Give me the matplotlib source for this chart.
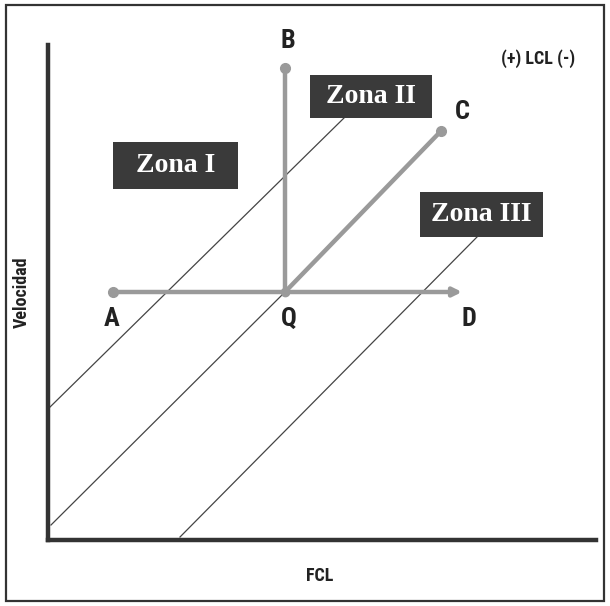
import matplotlib.pyplot as plt
from matplotlib.patches import Rectangle
from matplotlib import font_manager

# data space: origin at the axes corner, one unit ~ one pixel
point_names = ["A", "Q", "B", "C", "D"]
point_x = [65, 237, 237, 393, 414]
point_y = [248, 248, 472, 409, 248]

# thin diagonal iso-lines (start x, start y, end x, end y)
diag_x0 = [0, 3, 132]
diag_y0 = [131, 15, 3]
diag_x1 = [297, 237, 429]
diag_y1 = [423, 248, 303]

zone_labels = ["Zona I", "Zona II", "Zona III"]
zone_x = [65, 262, 372]
zone_y = [351, 422, 303]
zone_w = [125, 122, 123]
zone_h = [47, 43, 45]

label_dx = [-1, 4, 3, 21, 7]
label_dy = [-27, -27, 27, 19, -27]

GRAY = "#9a9a9a"
DARK = "#3a3a3a"

installed = {f.name for f in font_manager.fontManager.ttflist}
NARROW = [f for f in ["Liberation Sans Narrow", "DejaVu Sans Condensed",
                      "Roboto Condensed", "Open Sans Condensed"]
          if f in installed] + ["DejaVu Sans"]

fig = plt.figure(figsize=(6.10, 6.06), dpi=100)
ax = fig.add_axes([48 / 610, 66 / 606, 548 / 610, 495 / 606])
ax.set_xlim(0, 548)
ax.set_ylim(0, 495)
for s in ["top", "right"]:
    ax.spines[s].set_visible(False)
for s in ["left", "bottom"]:
    ax.spines[s].set_linewidth(3.2)
    ax.spines[s].set_color("#333333")
ax.set_xticks([])
ax.set_yticks([])

# frame around the whole figure
fig.patches.append(Rectangle((6 / 610, 5 / 606), 598 / 610, 596 / 606,
                             transform=fig.transFigure, fill=False,
                             edgecolor="#333333", linewidth=1.6))

for x0, y0, x1, y1 in zip(diag_x0, diag_y0, diag_x1, diag_y1):
    ax.plot([x0, x1], [y0, y1], color="#444444", linewidth=0.9)

pts = dict(zip(point_names, zip(point_x, point_y)))
qx, qy = pts["Q"]
for name in ["A", "B", "C"]:
    px, py = pts[name]
    ax.plot([qx, px], [qy, py], color=GRAY, linewidth=3.2,
            solid_capstyle="round", zorder=3)
    ax.plot(px, py, "o", color=GRAY, markersize=7, zorder=4)
ax.annotate("", xy=pts["D"], xytext=(qx, qy),
            arrowprops=dict(arrowstyle="-|>,head_length=0.5,head_width=0.25",
                            color=GRAY, linewidth=3.2, shrinkA=0, shrinkB=0),
            zorder=3)
ax.plot(qx, qy, "o", color=GRAY, markersize=6, zorder=4)

for name, dx, dy in zip(point_names, label_dx, label_dy):
    px, py = pts[name]
    ax.text(px + dx, py + dy, name, ha="center", va="center",
            fontsize=19, fontweight="bold", family=NARROW,
            fontstretch="condensed", color="#222222")

for lab, x, y, w, h in zip(zone_labels, zone_x, zone_y, zone_w, zone_h):
    ax.add_patch(Rectangle((x, y), w, h, facecolor=DARK, edgecolor="none",
                           zorder=5))
    ax.text(x + w / 2, y + h / 2, lab, ha="center", va="center",
            fontsize=20, fontweight="bold", family="Liberation Serif",
            color="white", zorder=6)

ax.text(490, 481, "(+) LCL (-)", ha="center", va="center", fontsize=13,
        fontweight="bold", family=NARROW, fontstretch="condensed",
        color="#222222")

fig.text(320 / 610, 1 - 576 / 606, "FCL", ha="center", va="center",
         fontsize=13, fontweight="bold", family=NARROW,
         fontstretch="condensed", color="#222222")
fig.text(22 / 610, 1 - 292 / 606, "Velocidad", ha="center", va="center",
         rotation=90, fontsize=13, fontweight="bold", family=NARROW,
         fontstretch="condensed", color="#222222")

fig.savefig("out.png", dpi=100)
